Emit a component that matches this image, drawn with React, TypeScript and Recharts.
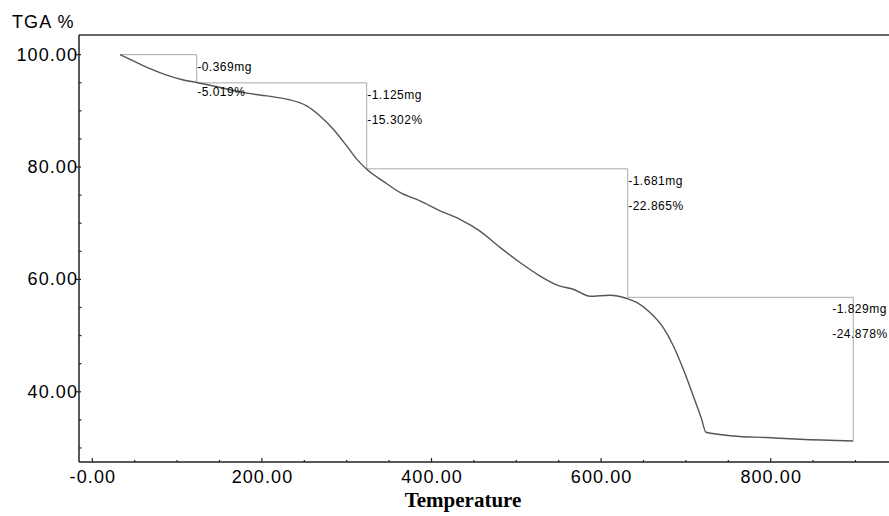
import React from 'react';
import { LineChart, Line, XAxis, YAxis, ReferenceLine, Label } from 'recharts';

// TGA curve (temperature, weight %)
const temps = [32.7, 48.3, 68.0, 87.7, 107.3, 123.1, 150, 182.1, 205.7, 229.2, 252.8, 268.5, 284.2, 300, 311.8, 323.6, 342.8, 362.9, 386.5, 410.1, 433.6, 457.2, 480.8, 504.4, 528, 551.5, 567.2, 587, 610.4, 630.2, 642, 657.7, 673.3, 685.1, 697, 708.7, 718.6, 723.7, 740.2, 755.5, 795.3, 834.5, 897.4];
const weights = [100.0, 98.9, 97.5, 96.35, 95.5, 95.05, 94.2, 93.15, 92.67, 92.08, 90.88, 89.1, 86.74, 83.76, 81.4, 79.6, 77.5, 75.47, 73.97, 72.2, 70.7, 68.6, 65.7, 63.0, 60.6, 58.8, 58.25, 57.0, 57.18, 56.6, 55.9, 54.1, 51.4, 48.2, 44.0, 39.26, 35.1, 32.8, 32.4, 32.14, 31.85, 31.55, 31.24];

// step analysis boxes
const stepTemps = [32.7, 123.1, 323.6, 631.4, 897.4];
const stepLevels = [100, 94.98, 79.68, 56.81, 31.3];
const massLoss = ['-0.369mg', '-1.125mg', '-1.681mg', '-1.829mg'];
const pctLoss = ['-5.019%', '-15.302%', '-22.865%', '-24.878%'];

const xTicks = [0, 50, 100, 150, 200, 250, 300, 350, 400, 450, 500, 550, 600, 650, 700, 750, 800, 850, 900];
const yTicks = [30, 35, 40, 45, 50, 55, 60, 65, 70, 75, 80, 85, 90, 95, 100];

const curveData = temps.map((t, i) => ({ t, w: weights[i] }));
const stepData = stepTemps.map((t, i) => ({ t, w: stepLevels[i] }));
const noteData = massLoss.map((m, i) => ({ t: stepTemps[i + 1], w: stepLevels[i] }));

const SANS = '"Liberation Sans", Arial, sans-serif';
const LS = 1.1;
const PAGE_W = 889;

const XTick = ({ x, y, payload }: any) => {
  const v = payload.value;
  const major = v % 200 === 0;
  const text = v === 0 ? '-0.00' : v.toFixed(2);
  return (
    <g>
      <line x1={x} x2={x} y1={y} y2={y - (major ? 4 : 2)} stroke="#222" strokeWidth={1.2} />
      {major && (
        <text x={x + LS / 2} y={y + 15} textAnchor="middle" dominantBaseline="central"
          fontFamily={SANS} fontSize={18} letterSpacing={LS} fill="#000">{text}</text>
      )}
    </g>
  );
};

const YTick = ({ x, y, payload }: any) => {
  const v = payload.value;
  const major = v % 20 === 0;
  return (
    <g>
      {major ? (
        <line x1={x - 3} x2={x + 2} y1={y} y2={y} stroke="#222" strokeWidth={1.2} />
      ) : (
        <line x1={x} x2={x + 2.5} y1={y} y2={y} stroke="#222" strokeWidth={1.2} />
      )}
      {major && (
        <text x={x - 2 + LS} y={y} textAnchor="end" dominantBaseline="central"
          fontFamily={SANS} fontSize={18} letterSpacing={LS} fill="#000">{v.toFixed(2)}</text>
      )}
    </g>
  );
};

const renderNote = (props: any) => {
  const { x, y, index } = props;
  // labels that would run off the page are pulled back left, as in the original
  const widest = Math.max(massLoss[index].length, pctLoss[index].length) * 7.1;
  const tx = Math.min(x + 0.5, PAGE_W - widest);
  return (
    <g key={`note-${index}`}>
      <text x={tx} y={y + 16} fontFamily={SANS} fontSize={12} letterSpacing={0.5} fill="#000">{massLoss[index]}</text>
      <text x={tx} y={y + 41} fontFamily={SANS} fontSize={12} letterSpacing={0.5} fill="#000">{pctLoss[index]}</text>
    </g>
  );
};

export default function App() {
  return (
    <div style={{ position: 'absolute', left: 0, top: 0, width: PAGE_W, height: 516, overflow: 'hidden', background: '#fff' }}>
      <LineChart width={895} height={516} margin={{ top: 35, right: 4, bottom: 0, left: 0 }}>
        <XAxis
          dataKey="t"
          type="number"
          domain={[-15.7, 941.9]}
          allowDataOverflow
          ticks={xTicks}
          interval={0}
          tick={XTick}
          tickLine={false}
          tickSize={0}
          tickMargin={0}
          height={54}
          axisLine={{ stroke: '#222', strokeWidth: 1.5 }}
        >
          <Label
            content={() => (
              <text x={463} y={500} textAnchor="middle" dominantBaseline="central"
                fontFamily='"Liberation Serif", "Times New Roman", serif' fontWeight="bold" fontSize={21} fill="#000">
                Temperature
              </text>
            )}
          />
        </XAxis>
        <YAxis
          type="number"
          domain={[27.5, 103.5]}
          allowDataOverflow
          ticks={yTicks}
          interval={0}
          tick={YTick}
          tickLine={false}
          tickSize={0}
          tickMargin={0}
          width={79}
          axisLine={{ stroke: '#222', strokeWidth: 1.5 }}
        >
          <Label
            content={() => (
              <text x={12} y={22} dominantBaseline="central" fontFamily={SANS} fontSize={18} letterSpacing={LS} fill="#000">
                TGA %
              </text>
            )}
          />
        </YAxis>
        <ReferenceLine y={103.5} stroke="#666" strokeWidth={2} />
        <Line data={stepData} dataKey="w" type="stepAfter" stroke="#aaa" strokeWidth={1} dot={false} isAnimationActive={false} />
        <Line data={curveData} dataKey="w" type="monotone" stroke="#555" strokeWidth={1.4} dot={false} isAnimationActive={false} />
        <Line data={noteData} dataKey="w" stroke="none" dot={false} label={renderNote} isAnimationActive={false} />
      </LineChart>
    </div>
  );
}
